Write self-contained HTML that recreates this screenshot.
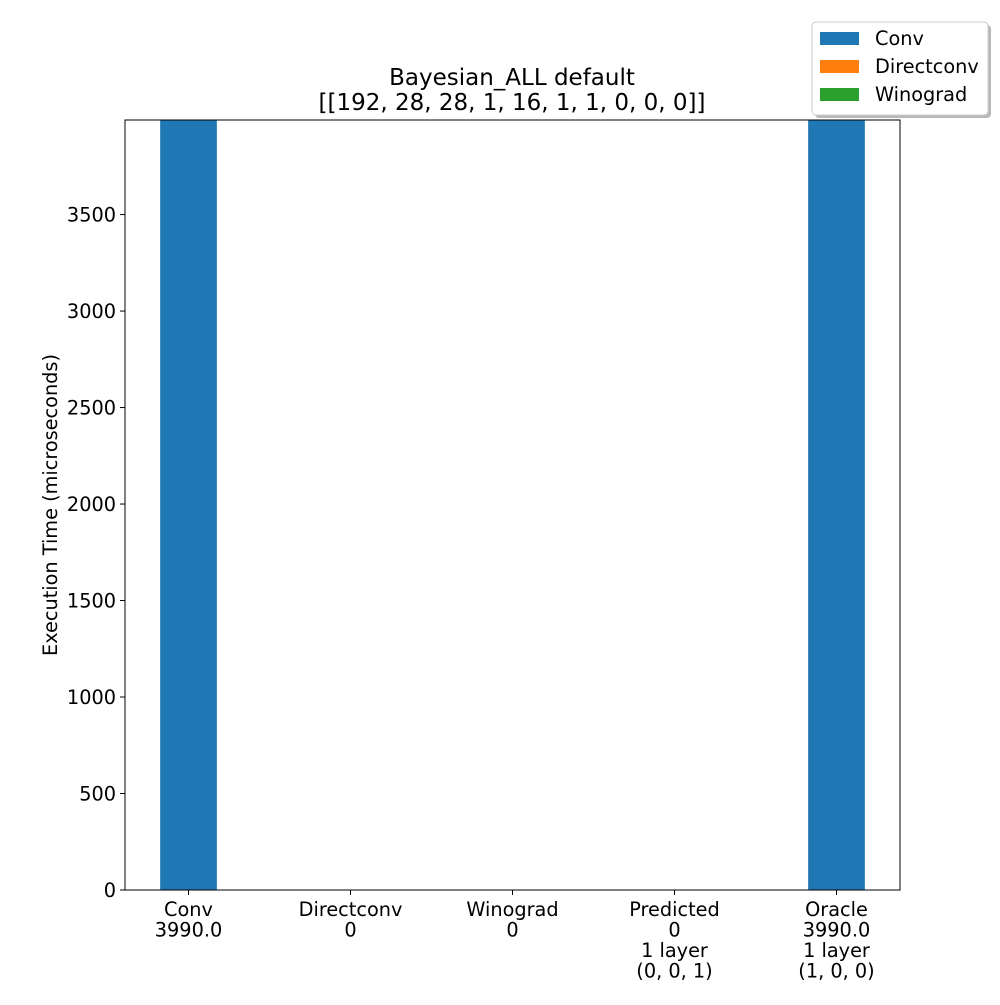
<!DOCTYPE html>
<html><head><meta charset="utf-8"><style>
body{margin:0;background:#fff;font-family:"Liberation Sans","DejaVu Sans",sans-serif;}
</style></head><body>
<svg id="chart" width="1000" height="1000" xmlns="http://www.w3.org/2000/svg" font-family="DejaVu Sans, Liberation Sans, sans-serif">
<rect width="1000" height="1000" fill="#fff"/>
<g id="plot"></g>
</svg>
<script>
const categories = ["Conv\n3990.0","Directconv\n0","Winograd\n0","Predicted\n0\n1 layer\n(0, 0, 1)","Oracle\n3990.0\n1 layer\n(1, 0, 0)"];
const convValues = [3990, 0, 0, 0, 3990];
const directValues = [0, 0, 0, 0, 0];
const winoValues = [0, 0, 0, 0, 0];
const yTicks = [0,500,1000,1500,2000,2500,3000,3500];
const seriesNames = ["Conv","Directconv","Winograd"];
const colors = ["#1f77b4","#ff7f0e","#2ca02c"];

const NS="http://www.w3.org/2000/svg";
const g=document.getElementById('plot');
const L=125,R=900,T=120,B=890;
const yMax=3990;
const FS=19.3;
const y=v=>B-(v/yMax)*(B-T);
const xMin=-0.392,xMax=categories.length-1+0.392;
const x=i=>L+(i-xMin)/(xMax-xMin)*(R-L);
const bw=0.35*(R-L)/(xMax-xMin);
function el(t,a,p){const e=document.createElementNS(NS,t);for(const k in a)e.setAttribute(k,a[k]);(p||g).appendChild(e);return e;}

const series=[convValues,directValues,winoValues];
categories.forEach((c,i)=>{
  let base=0;
  series.forEach((s,j)=>{
    const v=s[i];
    if(v>0){
      const r=el('rect',{x:x(i)-bw/2,y:y(base+v),width:bw,height:y(base)-y(base+v),fill:colors[j]});
      
      
    }
    base+=v;
  });
});
const frame=el('rect',{x:L,y:T,width:R-L,height:B-T,fill:'none',stroke:'#000','stroke-width':1});



yTicks.forEach(v=>{
  el('line',{x1:L-5,x2:L,y1:y(v),y2:y(v),stroke:'#000'});
  const t=el('text',{x:L-9,y:y(v)+7,'text-anchor':'end','font-size':FS});
  t.textContent=v;
  
  
});
categories.forEach((c,i)=>{
  el('line',{x1:x(i),x2:x(i),y1:B,y2:B+5,stroke:'#000'});
  c.split('\n').forEach((ln,k)=>{
    const t=el('text',{x:x(i),y:B+26+k*20.5,'text-anchor':'middle','font-size':FS});
    t.textContent=ln;
    
    
  });
});
const yt=el('text',{x:57,y:505,'text-anchor':'middle','font-size':FS,transform:'rotate(-90 57 505)'});
yt.textContent='Execution Time (microseconds)';


['Bayesian_ALL default','[[192, 28, 28, 1, 16, 1, 1, 0, 0, 0]]'].forEach((s,k)=>{
  const t=el('text',{x:512,y:85+k*25,'text-anchor':'middle','font-size':23});
  t.textContent=s;
  
  
});
const lg=el('g',{});


el('rect',{x:815,y:25,width:176,height:93,rx:4,fill:'#888',opacity:0.6},lg);
el('rect',{x:812,y:22,width:176,height:93,rx:4,fill:'#fff',stroke:'#ccc'},lg);
seriesNames.forEach((n,j)=>{
  const e=el('g',{},lg);
  
  
  el('rect',{x:820,y:32+j*28,width:39,height:13,fill:colors[j]},e);
  const t=el('text',{x:875,y:45+j*28,'font-size':FS},e);
  t.textContent=n;
});
</script>
</body></html>
